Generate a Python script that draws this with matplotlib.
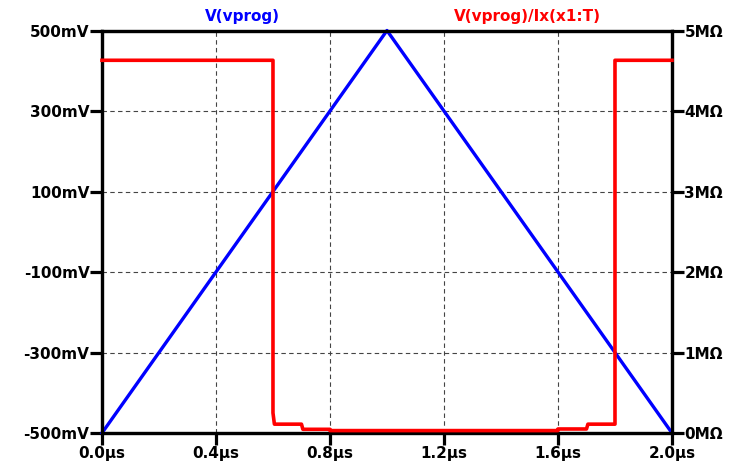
import matplotlib
matplotlib.use("Agg")
import matplotlib.pyplot as plt

# V(vprog): triangle sweep
t_v = [0.0, 1.0, 2.0]          # µs
v_prog = [-500, 500, -500]     # mV

# V(vprog)/Ix(x1:T) in MOhm
t_r = [0.0, 0.6, 0.6, 0.605, 0.7, 0.705, 0.8, 0.8, 1.6, 1.6, 1.7, 1.705, 1.8, 1.8, 2.0]
r_val = [4.63, 4.63, 0.25, 0.11, 0.11, 0.046, 0.046, 0.03, 0.03, 0.05, 0.05, 0.11, 0.11, 4.63, 4.63]

x_ticks = [0.0, 0.4, 0.8, 1.2, 1.6, 2.0]
x_labels = ["0.0µs", "0.4µs", "0.8µs", "1.2µs", "1.6µs", "2.0µs"]
v_ticks = [500, 300, 100, -100, -300, -500]
v_labels = ["500mV", "300mV", "100mV", "-100mV", "-300mV", "-500mV"]
r_ticks = [0, 1, 2, 3, 4, 5]
r_labels = ["0MΩ", "1MΩ", "2MΩ", "3MΩ", "4MΩ", "5MΩ"]

plt.rcParams["font.family"] = "DejaVu Sans"
plt.rcParams["font.weight"] = "bold"

fig = plt.figure(figsize=(7.52, 4.70), dpi=100)
ax = fig.add_axes([0.1356, 0.0787, 0.758, 0.8564])
ax2 = ax.twinx()

ax.set_xlim(0, 2)
ax.set_ylim(-500, 500)
ax2.set_ylim(0, 5)

ax.set_xticks(x_ticks)
ax.set_xticklabels(x_labels)
ax.set_yticks(v_ticks)
ax.set_yticklabels(v_labels)
ax2.set_yticks(r_ticks)
ax2.set_yticklabels(r_labels)

for a in (ax, ax2):
    for s in a.spines.values():
        s.set_linewidth(2.3)
        s.set_color("black")
    a.tick_params(length=8.5, width=2.3, pad=0.5, labelsize=11, colors="black")

ax.grid(True, color="#444444", linewidth=0.8, linestyle=(0, (4, 3)))

ax.plot(t_v, v_prog, color="#0000ff", linewidth=2.4, zorder=3, clip_on=False)
ax2.plot(t_r, r_val, color="#ff0000", linewidth=2.6, zorder=4, clip_on=False)

fig.text(242 / 752, 1 - 16 / 470, "V(vprog)", color="#0000ff", fontsize=11,
         fontweight="bold", ha="center", va="center")
fig.text(527 / 752, 1 - 16 / 470, "V(vprog)/Ix(x1:T)", color="#ff0000", fontsize=11,
         fontweight="bold", ha="center", va="center")

fig.savefig("out.png", dpi=100)
